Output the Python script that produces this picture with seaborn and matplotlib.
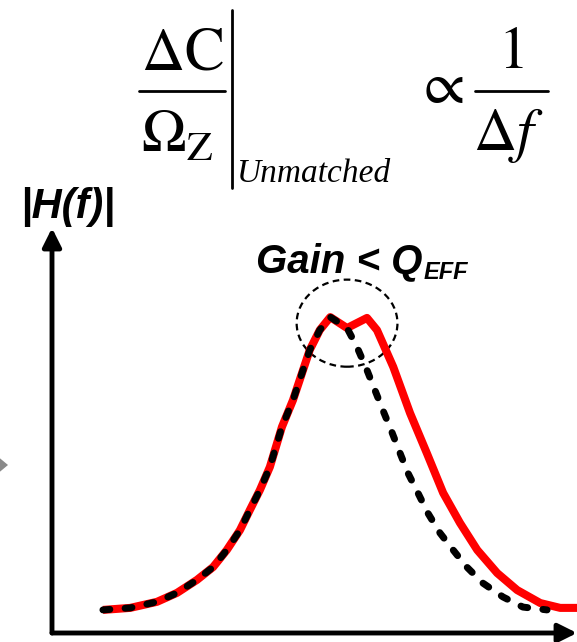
import matplotlib
matplotlib.use("Agg")
import matplotlib.pyplot as plt
import seaborn as sns
import pandas as pd
from matplotlib.patches import Ellipse, Polygon
from matplotlib.lines import Line2D

# normalised frequency / |H(f)|
f_matched = [0.097, 0.149, 0.200, 0.238, 0.276, 0.307, 0.333, 0.358, 0.377, 0.396,
             0.415, 0.438, 0.459, 0.491, 0.510, 0.530, 0.562, 0.600, 0.619, 0.650,
             0.682, 0.714, 0.745, 0.777, 0.810, 0.848, 0.886, 0.930, 0.968, 1.000]
h_matched = [0.057, 0.062, 0.077, 0.099, 0.131, 0.163, 0.205, 0.254, 0.304, 0.353,
             0.410, 0.509, 0.575, 0.699, 0.748, 0.780, 0.753, 0.778, 0.748, 0.657,
             0.543, 0.444, 0.346, 0.272, 0.205, 0.148, 0.106, 0.074, 0.062, 0.062]

f_unmatched = [0.097, 0.149, 0.200, 0.238, 0.276, 0.307, 0.333, 0.358, 0.377, 0.396,
               0.415, 0.438, 0.459, 0.491, 0.510, 0.530, 0.562, 0.581, 0.600, 0.615,
               0.630, 0.648, 0.663, 0.678, 0.697, 0.716, 0.739, 0.764, 0.790, 0.821,
               0.859, 0.897, 0.943]
h_unmatched = [0.057, 0.062, 0.077, 0.099, 0.131, 0.163, 0.205, 0.254, 0.304, 0.353,
               0.410, 0.509, 0.575, 0.699, 0.748, 0.780, 0.753, 0.706, 0.649, 0.600,
               0.551, 0.494, 0.444, 0.395, 0.346, 0.296, 0.247, 0.205, 0.163, 0.123,
               0.089, 0.064, 0.057]

df = pd.concat([
    pd.DataFrame({"f": f_matched, "H": h_matched, "curve": "matched"}),
    pd.DataFrame({"f": f_unmatched, "H": h_unmatched, "curve": "unmatched"}),
], ignore_index=True)

sns.set_style("white")
plt.rcParams['font.family'] = ['Liberation Sans', 'DejaVu Sans']
plt.rcParams['mathtext.fontset'] = 'stix'
plt.rcParams['text.color'] = 'black'

W, H = 577, 642
fig = plt.figure(figsize=(W / 100, H / 100), dpi=100)
ax = fig.add_axes([52 / W, 1 - 633 / H, (W - 52) / W, (633 - 228) / H])

# red solid first, black dashed on top
sns.lineplot(data=df[df.curve == "matched"], x="f", y="H", color="#ff0000",
             linewidth=5.8, sort=False, estimator=None, ax=ax, legend=False)
sns.lineplot(data=df[df.curve == "unmatched"], x="f", y="H", color="black",
             linewidth=5.0, sort=False, estimator=None, ax=ax, legend=False)
ax.lines[0].set_solid_capstyle("butt")
ax.lines[0].set_solid_joinstyle("round")
ax.lines[1].set_dashes((1.0, 2.2))
ax.lines[1].set_dash_capstyle("round")
ax.lines[1].set_dash_joinstyle("round")

ax.set_xlim(0, 1)
ax.set_ylim(0, 1)
ax.set_xlabel("")
ax.set_ylabel("")
ax.set_xticks([])
ax.set_yticks([])
for s in ax.spines.values():
    s.set_visible(False)

# axis arrows
arr = dict(arrowstyle="-|>", color="black", lw=3.5, mutation_scale=28, shrinkA=0, shrinkB=0)
ax.annotate("", xy=(0, 1), xytext=(0, 0), xycoords="axes fraction", arrowprops=arr, annotation_clip=False)
ax.annotate("", xy=(1, 0), xytext=(0, 0), xycoords="axes fraction", arrowprops=arr, annotation_clip=False)

# dashed circle around the split peak
ax.add_patch(Ellipse((0.562, 0.765), 0.192, 0.215, fill=False, color="black",
                     lw=1.6, linestyle=(0, (3, 2)), clip_on=False))


def px(x, y):
    return x / W, 1 - y / H


# gray arrow tip at the left edge
fig.patches.append(Polygon([px(-4, 455), px(8, 465), px(-4, 475)], closed=True,
                           transform=fig.transFigure, color="#8a8a8a", lw=0))

# labels
fig.text(*px(20, 218), "|H(f)|", fontsize=30, fontweight="bold", fontstyle="italic", va="baseline")
gq = fig.text(*px(256, 272), "Gain < Q", fontsize=29, fontweight="bold", fontstyle="italic", va="baseline")
fig.canvas.draw()
bb = gq.get_window_extent()
fig.text((bb.x1 + 1) / W, 1 - 279 / H, "EFF", fontsize=17, fontweight="bold",
         fontstyle="italic", va="baseline")

# formula
fig.text(*px(182, 70), r"$\Delta\mathrm{C}$", fontsize=43, ha="center", va="baseline")
fig.add_artist(Line2D([139 / W, 225 / W], [1 - 91 / H] * 2, color="black", lw=2))
fig.text(*px(141, 153), r"$\Omega_{\mathrm{Z}}$", fontsize=43, ha="left", va="baseline")
fig.add_artist(Line2D([232 / W] * 2, [1 - 10 / H, 1 - 188 / H], color="black", lw=2))
fig.text(*px(237, 182), "Unmatched", fontsize=24, fontstyle="italic",
         family=["Liberation Serif", "DejaVu Serif"], va="baseline")
fig.text(*px(440, 103), r"$\propto$", fontsize=43, ha="center", va="baseline")
fig.text(*px(511, 68), r"$\mathrm{1}$", fontsize=43, ha="center", va="baseline")
fig.add_artist(Line2D([475 / W, 548 / W], [1 - 91 / H] * 2, color="black", lw=2))
fig.text(*px(508, 150), r"$\Delta f$", fontsize=43, ha="center", va="baseline")

fig.savefig("out.png", dpi=100)
